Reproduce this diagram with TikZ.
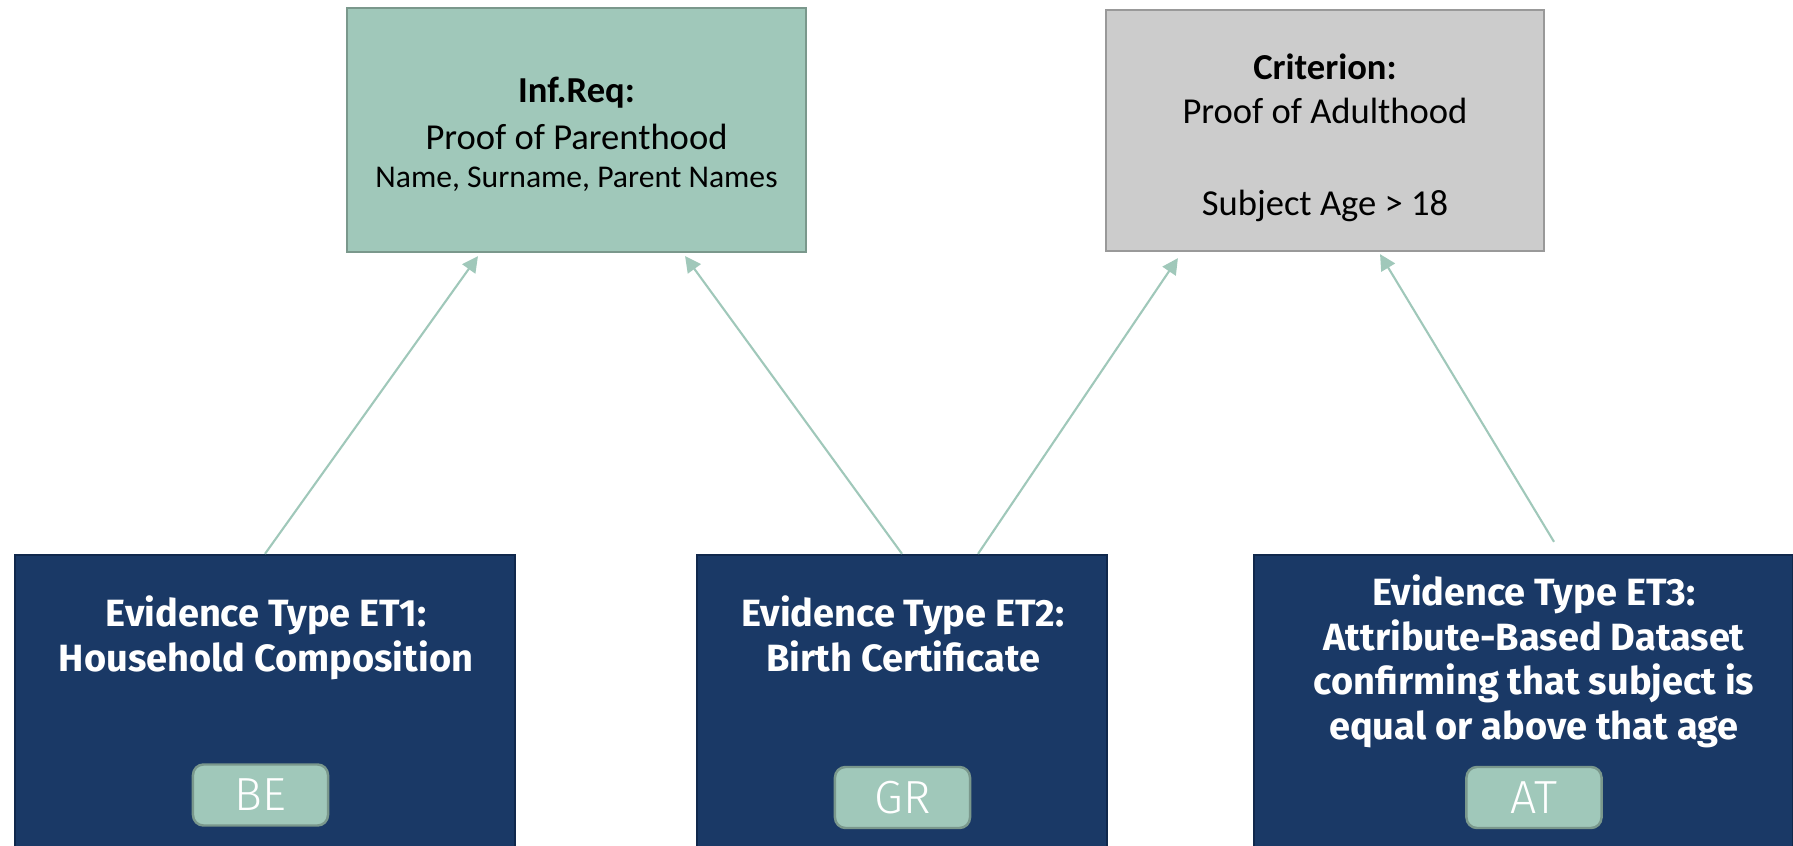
\documentclass[tikz,border=0pt]{standalone}
\usepackage{fontspec}
\setmainfont{Carlito}
\newfontfamily\ecfont{Fira Sans}
\newfontfamily\eclightfont{Fira Sans Light}
\usetikzlibrary{arrows.meta}
\definecolor{reqgreen}{RGB}{160,200,186}
\definecolor{reqedge}{RGB}{122,152,140}
\definecolor{critgray}{RGB}{204,204,204}
\definecolor{critedge}{RGB}{153,153,153}
\definecolor{evblue}{RGB}{26,57,102}
\definecolor{evedge}{RGB}{16,40,76}
\begin{document}
\begin{tikzpicture}[x=0.01cm,y=-0.01cm,
  topbox/.style={line width=0.6pt},
  toptext/.style={inner sep=0pt,align=center,font=\fontsize{10.4}{12.7}\selectfont},
  evbox/.style={draw=evedge,fill=evblue,line width=0.6pt,minimum height=3.45cm},
  evtitle/.style={anchor=north,inner sep=0pt,align=center,text=white,font=\ecfont\bfseries\fontsize{10.8}{12.7}\selectfont},
  badge/.style={draw=reqedge,fill=reqgreen,line width=0.7pt,rounded corners=3pt,minimum width=1.35cm,minimum height=0.61cm,inner sep=0pt,text=white,font=\eclightfont\fontsize{13.2}{14}\selectfont},
  link/.style={draw=reqgreen,line width=0.6pt,-{Triangle[length=4.5pt,width=4.5pt]}}]
\useasboundingbox (0,0) rectangle (1793,846);
\clip (0,0) rectangle (1793,846);
\node[topbox,fill=reqgreen,draw=reqedge,minimum width=4.59cm,minimum height=2.44cm] (inf) at (576.5,130) {};
\node[toptext] (inftext) at ([yshift=-0.045cm]inf.center) {\textbf{Inf.Req:}\\[0.7pt]Proof of Parenthood\\[-1.9pt]{\fontsize{9}{10.8}\selectfont Name, Surname, Parent Names}};
\node[topbox,fill=critgray,draw=critedge,minimum width=4.38cm,minimum height=2.41cm] (crit) at (1325,130.5) {};
\node[toptext] (crittext) at ([yshift=-0.07cm]crit.center) {\textbf{Criterion:}\\Proof of Adulthood\\[13.3pt]Subject Age > 18};
\node[evbox,minimum width=5cm] (et1box) at (265,727.5) {};
\node[evbox,minimum width=4.1cm] (et2box) at (902,727.5) {};
\node[evbox,minimum width=5.39cm] (et3box) at (1523.5,727.5) {};
\node[evtitle] (et1) at (266,595) {Evidence Type ET1:\\Household Composition};
\node[evtitle] (et2) at (903,595) {Evidence Type ET2:\\Birth Certificate};
\node[evtitle] (et3) at (1534,574) {Evidence Type ET3:\\Attribute-Based Dataset\\confirming that subject is\\equal or above that age};
\node[badge] (bebadge) at (260.5,795) {BE};
\node[badge] (grbadge) at (902.5,797.5) {GR};
\node[badge] (atbadge) at (1534,797.5) {AT};
\draw[link] (et1box.north) -- ([xshift=-0.985cm,yshift=-0.03cm]inf.south);
\draw[link] (et2box.north) -- ([xshift=1.085cm,yshift=-0.03cm]inf.south);
\draw[link] ([xshift=0.76cm]et2box.north) -- ([xshift=-1.47cm,yshift=-0.06cm]crit.south);
\draw[link] ([xshift=0.305cm,yshift=0.12cm]et3box.north) -- ([xshift=0.55cm,yshift=-0.02cm]crit.south);
\end{tikzpicture}
\end{document}
